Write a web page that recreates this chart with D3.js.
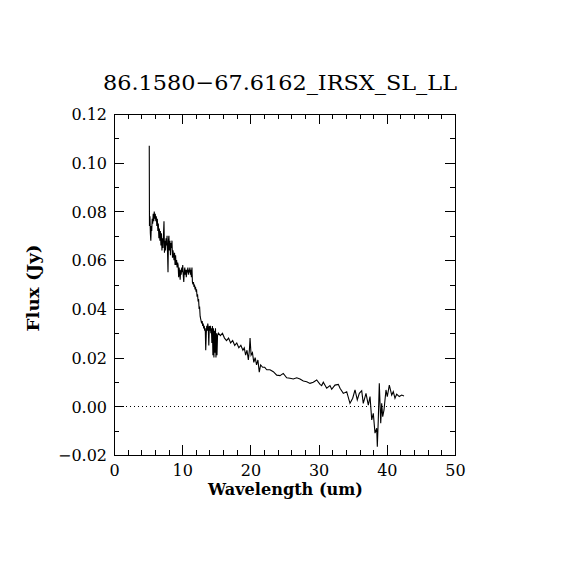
<!DOCTYPE html>
<html><head><meta charset="utf-8">
<script src="https://cdn.jsdelivr.net/npm/d3@7"></script>
<style>
html,body{margin:0;padding:0;background:#fff;}
svg{display:block;}
</style></head>
<body>
<svg id="chart" width="570" height="570"></svg>
<script>
const titleText = "86.1580\u221267.6162_IRSX_SL_LL";
const xLabel = "Wavelength (um)";
const yLabel = "Flux (Jy)";
const xTicks = [0, 10, 20, 30, 40, 50];
const yTicks = [-0.02, 0.00, 0.02, 0.04, 0.06, 0.08, 0.10, 0.12];
const wavelength = [
5.17,5.20,5.27,5.33,5.40,5.47,5.53,5.60,5.67,5.75,5.83,5.90,5.98,6.05,6.13,6.20,6.28,6.35,6.43,6.50,
6.58,6.65,6.73,6.80,6.88,6.95,7.03,7.10,7.18,7.25,7.33,7.40,7.48,7.55,7.63,7.70,7.78,7.85,7.92,7.98,
8.05,8.13,8.20,8.28,8.35,8.43,8.50,8.58,8.65,8.73,8.80,8.88,8.95,9.03,9.10,9.18,9.25,9.33,9.40,9.48,
9.55,9.63,9.70,9.78,9.85,9.93,10.00,10.08,10.15,10.23,10.30,10.38,10.45,10.53,10.60,10.68,10.75,10.83,10.90,10.98,
11.05,11.13,11.20,11.28,11.35,11.43,11.50,11.58,11.65,11.73,11.80,11.88,11.95,12.03,12.10,12.18,12.25,12.33,12.40,12.48,
12.55,12.63,12.70,12.78,12.85,12.93,13.00,13.08,13.15,13.23,13.30,13.38,13.45,13.53,13.60,13.68,13.75,13.83,13.90,13.98,
14.05,14.13,14.20,14.28,14.35,14.43,14.50,14.58,14.65,14.73,14.80,14.88,14.95,15.03,15.10,15.18,
15.3,15.6,15.9,16.2,16.5,16.8,17.1,17.4,17.7,18.0,18.3,18.6,18.9,19.1,19.3,19.5,19.7,19.85,19.95,20.1,
20.3,20.5,20.7,20.9,21.1,21.3,21.5,21.8,22.1,22.4,22.87,23.36,23.86,24.34,24.82,25.32,25.81,26.29,26.79,27.27,
27.76,28.26,28.74,29.22,29.72,30.21,30.45,30.69,31.19,31.67,31.92,32.40,32.89,33.14,33.62,34.12,34.60,35.00,35.34,35.67,
35.97,36.32,36.55,36.95,37.29,37.54,37.79,38.02,38.27,38.52,38.61,38.75,38.90,39.11,39.25,39.40,39.59,39.88,40.07,40.37,
40.72,40.95,41.20,41.45,41.83,42.18,42.52
];
const flux = [
0.107,0.074,0.078,0.071,0.068,0.074,0.072,0.077,0.075,0.079,0.076,0.080,0.077,0.079,0.076,0.078,0.074,0.077,0.072,0.075,
0.069,0.073,0.068,0.072,0.066,0.071,0.064,0.069,0.065,0.070,0.076,0.063,0.068,0.064,0.069,0.066,0.070,0.063,0.055,0.068,
0.070,0.064,0.068,0.062,0.067,0.065,0.068,0.061,0.064,0.062,0.060,0.063,0.058,0.062,0.058,0.060,0.057,0.059,0.058,0.053,
0.057,0.055,0.052,0.056,0.054,0.057,0.055,0.058,0.054,0.051,0.055,0.057,0.054,0.056,0.053,0.056,0.055,0.057,0.054,0.056,
0.055,0.057,0.054,0.056,0.053,0.057,0.051,0.050,0.051,0.049,0.050,0.048,0.049,0.047,0.048,0.045,0.046,0.043,0.044,0.040,
0.041,0.037,0.036,0.035,0.034,0.035,0.033,0.034,0.032,0.033,0.031,0.032,0.023,0.030,0.033,0.031,0.034,0.032,0.025,0.033,
0.031,0.033,0.030,0.032,0.026,0.033,0.021,0.032,0.020,0.031,0.022,0.032,0.020,0.030,0.021,0.029,
0.030,0.029,0.030,0.028,0.027,0.028,0.026,0.027,0.025,0.026,0.024,0.025,0.023,0.024,0.021,0.023,0.019,0.023,0.028,0.021,
0.022,0.018,0.020,0.017,0.019,0.014,0.017,0.016,0.016,0.015,0.0150,0.0142,0.0128,0.0126,0.0135,0.0117,0.0115,0.0112,0.0117,0.0112,
0.0104,0.0101,0.0094,0.0099,0.0108,0.0090,0.0085,0.0099,0.0074,0.0085,0.0070,0.0087,0.0090,0.0074,0.0053,0.0060,0.0012,0.0033,0.0067,0.0026,
0.0053,0.0064,0.0012,0.0053,0.0005,0.0040,-0.0056,-0.0029,-0.0110,-0.0090,-0.0166,-0.0056,0.0094,-0.0070,0.0012,-0.0043,-0.0015,0.0067,0.0040,0.0087,
0.0046,0.0060,0.0033,0.0050,0.0040,0.0046,0.0042
];

const svg = d3.select("#chart");
const L = 114, R = 455, T = 114, B = 455;
const x = d3.scaleLinear().domain([0, 50]).range([L, R]);
const y = d3.scaleLinear().domain([-0.02, 0.12]).range([B, T]);
const font = "'DejaVu Serif', serif";

const xMinor = d3.range(0, 50.001, 2);
const yMinor = d3.range(-0.02, 0.1201, 0.01);
function addAxis(axis, tx, ty, tickVals, size, showLabels) {
  const g = svg.append("g").attr("transform", `translate(${tx},${ty})`)
    .call(axis.tickValues(tickVals).tickSizeInner(size).tickSizeOuter(0).tickPadding(6));
  g.select(".domain").remove();
  g.selectAll("line").attr("stroke", "#000").attr("shape-rendering", "crispEdges");
  if (!showLabels) g.selectAll("text").remove();
  return g;
}
const gxb = addAxis(d3.axisTop(x).tickFormat(d3.format("d")), 0, B, xTicks, 10, true);
gxb.selectAll("text").attr("y", 0).attr("dy", 0).attr("transform", "translate(0,21)")
  .attr("font-family", font).attr("font-size", 16).attr("fill", "#000").attr("text-anchor", "middle");
addAxis(d3.axisTop(x), 0, B, xMinor, 5, false);
addAxis(d3.axisBottom(x), 0, T, xTicks, 10, false);
addAxis(d3.axisBottom(x), 0, T, xMinor, 5, false);
const gyl = addAxis(d3.axisRight(y).tickFormat(d => d3.format(".2f")(d).replace("-", "\u2212")), L, 0, yTicks, 10, true);
gyl.selectAll("text").attr("x", -7).attr("text-anchor", "end").attr("dy", "0.36em")
  .attr("font-family", font).attr("font-size", 16).attr("fill", "#000");
addAxis(d3.axisRight(y), L, 0, yMinor, 5, false);
addAxis(d3.axisLeft(y), R, 0, yTicks, 10, false);
addAxis(d3.axisLeft(y), R, 0, yMinor, 5, false);

svg.append("rect").attr("x", L).attr("y", T).attr("width", R - L).attr("height", B - T)
  .attr("fill", "none").attr("stroke", "#000").attr("stroke-width", 1).attr("shape-rendering", "crispEdges");

svg.append("line").attr("x1", x(0)).attr("x2", x(50)).attr("y1", Math.round(y(0)) + 0.5).attr("y2", Math.round(y(0)) + 0.5)
  .attr("stroke", "#000").attr("stroke-width", 1).attr("stroke-dasharray", "1,3");

const data = wavelength.map((w, i) => [w, flux[i]]);
svg.append("path").datum(data)
  .attr("d", d3.line().x(d => x(d[0])).y(d => y(d[1])))
  .attr("fill", "none").attr("stroke", "#000").attr("stroke-width", 1.1);

svg.append("text").attr("x", 280).attr("y", 90).attr("text-anchor", "middle")
  .attr("font-family", font).attr("font-size", 21).attr("fill", "#000")
  .attr("textLength", 354).attr("lengthAdjust", "spacingAndGlyphs").text(titleText);
svg.append("text").attr("x", 285.5).attr("y", 495).attr("text-anchor", "middle")
  .attr("font-family", font).attr("font-weight", "bold").attr("font-size", 17).attr("fill", "#000")
  .attr("textLength", 155).attr("lengthAdjust", "spacingAndGlyphs").text(xLabel);
svg.append("text").attr("transform", "translate(39,288) rotate(-90)").attr("text-anchor", "middle")
  .attr("font-family", font).attr("font-weight", "bold").attr("font-size", 17).attr("fill", "#000")
  .attr("textLength", 87).attr("lengthAdjust", "spacingAndGlyphs").text(yLabel);
</script>
</body></html>
